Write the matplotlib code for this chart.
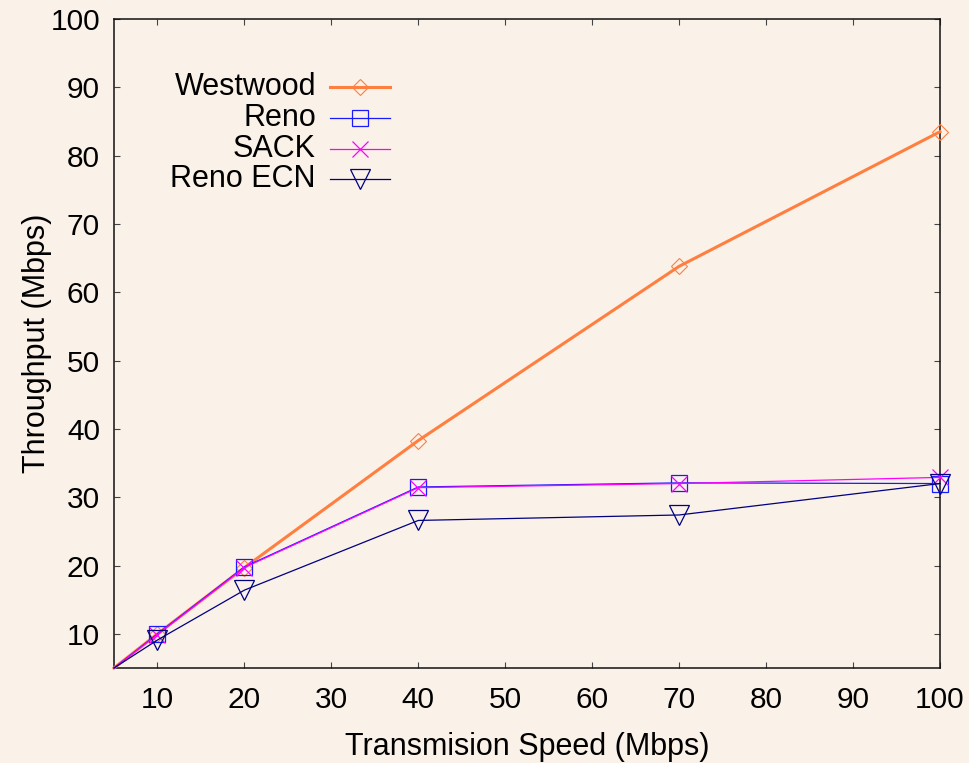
import matplotlib
matplotlib.use("Agg")
import matplotlib.pyplot as plt

plt.rcParams['font.family'] = ['Liberation Sans', 'DejaVu Sans']

speeds = [5, 10, 20, 40, 70, 100]
westwood = [5, 10.0, 19.7, 38.3, 63.8, 83.5]
reno = [5, 10.0, 19.8, 31.5, 32.1, 32.0]
sack = [5, 9.9, 19.7, 31.4, 32.0, 32.9]
reno_ecn = [5, 9.1, 16.4, 26.6, 27.4, 32.0]

series_names = ["Westwood", "Reno", "SACK", "Reno ECN"]
x_ticks = [10, 20, 30, 40, 50, 60, 70, 80, 90, 100]
y_ticks = [10, 20, 30, 40, 50, 60, 70, 80, 90, 100]

bg = '#faf1e8'
fig = plt.figure(figsize=(9.7, 7.63), dpi=100, facecolor=bg)
ax = fig.add_axes([114/970, 95/763, 826/970, 649/763], facecolor=bg)

styles = [
    dict(color='#ff7f40', lw=2.2, marker='D', ms=8.5, mew=0.8),
    dict(color='#1a1aff', lw=0.9, marker='s', ms=11.5, mew=0.9),
    dict(color='#ff00ff', lw=0.9, marker='x', ms=12, mew=0.9),
    dict(color='#000080', lw=0.9, marker='v', ms=15, mew=0.9),
]
data = [westwood, reno, sack, reno_ecn]

for vals, st in zip(data, styles):
    ax.plot(speeds, vals, color=st['color'], lw=st['lw'], marker=st['marker'],
            ms=st['ms'], mew=st['mew'], mfc='none', mec=st['color'],
            markevery=list(range(1, len(speeds))), clip_on=False, zorder=3)

ax.set_xlim(5, 100)
ax.set_ylim(5, 100)
ax.set_xticks(x_ticks)
ax.set_yticks(y_ticks)
ax.tick_params(direction='in', length=4.5, width=0.8, color='#444444',
               top=True, right=True, labelsize=21.5, labelcolor='black')
ax.tick_params(axis='x', pad=13)
ax.tick_params(axis='y', pad=10)
for s in ax.spines.values():
    s.set_linewidth(1.1)
    s.set_color('#111111')

ax.set_xlabel("Transmision Speed (Mbps)", fontsize=22, labelpad=13)
ax.set_ylabel("Throughput (Mbps)", fontsize=22, labelpad=-1)

# manual legend (gnuplot style: text right-aligned, sample to the right)
row_y = [87, 118, 149, 179]
tx = 316 / 970
for name, st, yp in zip(series_names, styles, row_y):
    yf = 1 - yp / 763
    fig.text(tx, yf, name, ha='right', va='center', fontsize=22)
    fig.add_artist(plt.Line2D([330/970, 390/970], [yf, yf], color=st['color'], lw=st['lw'],
                              transform=fig.transFigure))
    fig.add_artist(plt.Line2D([360/970], [yf], color=st['color'], marker=st['marker'],
                              ms=st['ms'], mew=st['mew'], mfc='none', mec=st['color'],
                              lw=0, transform=fig.transFigure))

fig.savefig("out.png", dpi=100, facecolor=bg)
